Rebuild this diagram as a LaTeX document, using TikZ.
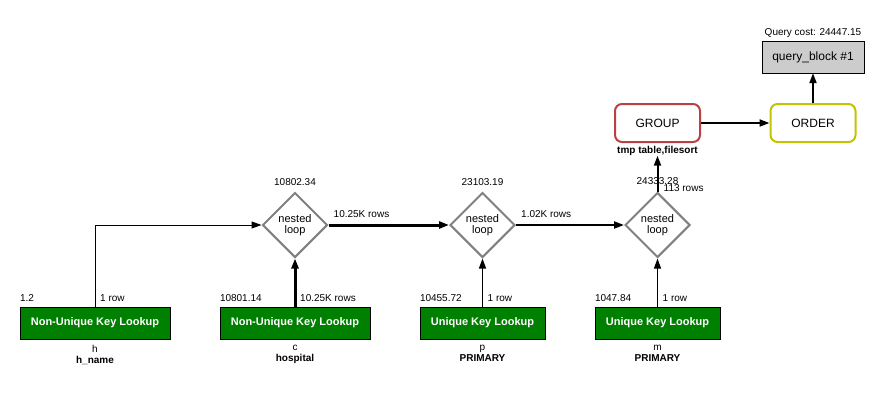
\documentclass[tikz,border=0pt]{standalone}
\usepackage{fontspec}
\setmainfont{Liberation Sans}
\usetikzlibrary{arrows.meta,shapes.geometric}
\definecolor{keygreen}{RGB}{0,128,0}
\definecolor{groupred}{RGB}{185,65,70}
\definecolor{orderyellow}{RGB}{195,195,0}
\definecolor{blockgray}{RGB}{204,204,204}
\begin{document}
\begin{tikzpicture}[x=1pt,y=-1pt,
    lookup/.style={draw=black,fill=keygreen,text=white,minimum height=32pt,inner sep=0pt,
      font=\bfseries\fontsize{11}{13}\selectfont},
    loopbox/.style={diamond,draw=gray,line width=2pt,fill=white,minimum size=65pt,inner sep=0pt,
      align=center,font=\fontsize{11}{11}\selectfont},
    opbox/.style={draw,rounded corners=7pt,line width=2pt,minimum width=85pt,minimum height=38pt,
      font=\fontsize{12}{14}\selectfont},
    small/.style={font=\fontsize{10}{12}\selectfont,inner sep=0pt},
    tablelbl/.style={font=\fontsize{10}{11}\selectfont,align=center,inner sep=0pt,anchor=north},
    flow/.style={-{Triangle[length=10pt,width=7pt]}}]
  \useasboundingbox (0,0) rectangle (894,416);

  \node[lookup,minimum width=150pt] (h) at (95,323) {Non-Unique Key Lookup};
  \node[lookup,minimum width=150pt] (c) at (295,323) {Non-Unique Key Lookup};
  \node[lookup,minimum width=125pt] (p) at (482.5,323) {Unique Key Lookup};
  \node[lookup,minimum width=125pt] (m) at (657.5,323) {Unique Key Lookup};

  \node[tablelbl] (hname) at ([yshift=-6pt]h.south) {h\\\textbf{h\_name}};
  \node[tablelbl] (cname) at ([yshift=-6pt]c.south) {c\\\textbf{hospital}};
  \node[tablelbl] (pname) at ([yshift=-6pt]p.south) {p\\\textbf{PRIMARY}};
  \node[tablelbl] (mname) at ([yshift=-6pt]m.south) {m\\\textbf{PRIMARY}};

  \node[loopbox] (loop1) at (295,225) {nested\\loop};
  \node[loopbox] (loop2) at (482.5,225) {nested\\loop};
  \node[loopbox] (loop3) at (657.5,225) {nested\\loop};

  \node[opbox,draw=groupred] (group) at (657.5,123) {GROUP};
  \node[opbox,draw=orderyellow] (order) at (813,123) {ORDER};
  \node[draw,fill=blockgray,minimum width=102pt,minimum height=32pt,
    font=\fontsize{12}{14}\selectfont] (qb) at (813,57) {query\_block \#1};

  \node[small,font=\bfseries\fontsize{10}{12}\selectfont,anchor=north] (sortlbl)
    at ([yshift=-3pt]group.south) {tmp table,filesort};
  \node[small,anchor=base] (qcost) at ([yshift=5pt]qb.north) {Query cost: 24447.15};

  \draw[flow,line width=1pt] (h.north) |- (loop1.west);
  \draw[flow,line width=3pt] (c.north) -- (loop1.south);
  \draw[flow,line width=1.3pt] (p.north) -- (loop2.south);
  \draw[flow,line width=1pt] (m.north) -- (loop3.south);
  \draw[flow,line width=3pt] (loop1.east) -- (loop2.west);
  \draw[flow,line width=2pt] (loop2.east) -- (loop3.west);
  \draw[flow,line width=2pt] (loop3.north) -- (sortlbl.south);
  \draw[flow,line width=2pt] (group.east) -- (order.west);
  \draw[flow,line width=2pt] (order.north) -- (qb.south);

  \node[small,anchor=base west] at ([yshift=5pt]h.north west) {1.2};
  \node[small,anchor=base west] at ([xshift=5pt,yshift=5pt]h.north) {1 row};
  \node[small,anchor=base west] at ([yshift=5pt]c.north west) {10801.14};
  \node[small,anchor=base west] at ([xshift=5pt,yshift=5pt]c.north) {10.25K rows};
  \node[small,anchor=base west] at ([yshift=5pt]p.north west) {10455.72};
  \node[small,anchor=base west] at ([xshift=5pt,yshift=5pt]p.north) {1 row};
  \node[small,anchor=base west] at ([yshift=5pt]m.north west) {1047.84};
  \node[small,anchor=base west] at ([xshift=5pt,yshift=5pt]m.north) {1 row};

  \node[small,anchor=base] at ([yshift=6pt]loop1.north) {10802.34};
  \node[small,anchor=base] at ([yshift=6pt]loop2.north) {23103.19};
  \node[small,anchor=base] at ([yshift=7pt]loop3.north) {24333.28};
  \node[small,anchor=base west] at ([xshift=5pt,yshift=8pt]loop1.east) {10.25K rows};
  \node[small,anchor=base west] at ([xshift=5pt,yshift=8pt]loop2.east) {1.02K rows};
  \node[small,anchor=base west] at ([xshift=6pt,yshift=0pt]loop3.north) {113 rows};
\end{tikzpicture}
\end{document}
